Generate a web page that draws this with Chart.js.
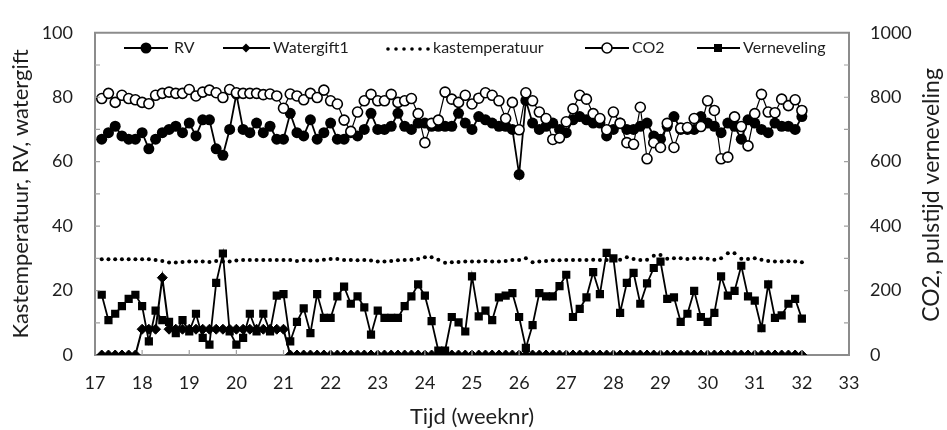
<!DOCTYPE html>
<html>
<head>
<meta charset="utf-8">
<script src="https://cdn.jsdelivr.net/npm/chart.js@4.4.1/dist/chart.umd.min.js"></script>
<style>
  html, body { margin: 0; padding: 0; background: #fff; }
  #wrap { width: 947px; height: 430px; }
</style>
</head>
<body>
<div id="wrap"><canvas id="chart" width="947" height="430"></canvas></div>
<script>
// daily values, first day = week 17 + 1/7
const rv = [
  67, 69, 71, 68, 67, 67, 69, 64, 67, 69,
  70, 71, 69, 72, 68, 73, 73, 64, 62, 70,
  81, 70, 69, 72, 69, 71, 67, 67, 75, 69,
  68, 73, 67, 69, 72, 67, 67, 69, 68, 70,
  75, 70, 70, 71, 75, 71, 70, 72, 72, 71,
  71, 71, 71, 75, 72, 70, 74, 73, 72, 71,
  71, 70, 56, 79, 72, 70, 71, 72, 70, 69,
  73, 74, 73, 72, 72, 68, 70, 72, 70, 70,
  71, 72, 68, 67, 71, 74, 70, 70, 70, 74,
  72, 71, 69, 72, 71, 67, 73, 72, 70, 69,
  72, 71, 71, 70, 74
];
const watergift1 = [
  0, 0, 0, 0, 0, 0, 8, 8, 8, 24,
  8, 8, 8, 8, 8, 8, 8, 8, 8, 8,
  8, 8, 8, 8, 8, 8, 8, 8, 0, 0,
  0, 0, 0, 0, 0, 0, 0, 0, 0, 0,
  0, 0, 0, 0, 0, 0, 0, 0, 0, 0,
  0, 0, 0, 0, 0, 0, 0, 0, 0, 0,
  0, 0, 0, 0, 0, 0, 0, 0, 0, 0,
  0, 0, 0, 0, 0, 0, 0, 0, 0, 0,
  0, 0, 0, 0, 0, 0, 0, 0, 0, 0,
  0, 0, 0, 0, 0, 0, 0, 0, 0, 0,
  0, 0, 0, 0, 0
];
const kastemperatuur = [
  29.7, 29.7, 29.7, 29.7, 29.7, 29.7, 29.7, 29.7, 29.5, 29.2,
  28.7, 28.7, 28.9, 29.0, 29.0, 29.0, 28.9, 29.2, 29.0, 29.0,
  29.3, 29.5, 29.5, 29.5, 29.5, 29.5, 29.5, 29.5, 29.5, 29.2,
  29.5, 29.3, 29.3, 29.6, 29.8, 29.8, 29.5, 29.5, 29.4, 29.5,
  29.3, 29.0, 29.0, 29.2, 29.4, 29.5, 29.6, 29.8, 30.3, 30.3,
  29.6, 28.6, 28.8, 28.9, 29.0, 29.0, 29.0, 29.2, 29.0, 29.0,
  29.2, 29.5, 29.5, 30.0, 28.8, 29.0, 29.2, 29.4, 29.4, 29.5,
  29.5, 29.5, 29.5, 29.6, 29.5, 29.5, 29.5, 29.6, 30.3, 29.8,
  29.5, 29.6, 30.8, 31.0, 29.9, 30.0, 30.0, 29.8, 30.0, 30.0,
  29.9, 29.6, 30.0, 31.6, 31.6, 29.9, 29.8, 30.0, 29.6, 29.2,
  29.0, 29.0, 29.1, 29.0, 28.8
];
const co2 = [
  796, 812, 784, 806, 796, 792, 784, 780, 806, 812,
  816, 812, 812, 824, 804, 816, 822, 814, 799, 824,
  814, 812, 812, 812, 808, 810, 804, 766, 810, 804,
  792, 812, 799, 822, 789, 779, 729, 694, 754, 789,
  809, 789, 789, 809, 784, 789, 796, 749, 659, 719,
  729, 816, 794, 784, 806, 779, 797, 814, 806, 789,
  734, 784, 699, 814, 789, 754, 734, 669, 674, 724,
  764, 806, 794, 749, 734, 699, 754, 719, 659, 654,
  769, 609, 659, 644, 719, 644, 704, 706, 734, 709,
  789, 759, 609, 614, 739, 709, 649, 749, 809, 754,
  752, 794, 774, 792, 759
];
const verneveling = [
  187, 108, 128, 152, 174, 187, 152, 42, 138, 108,
  103, 68, 108, 73, 128, 53, 32, 224, 315, 73,
  32, 53, 128, 73, 128, 73, 184, 189, 42, 103,
  145, 68, 189, 115, 115, 182, 212, 159, 182, 148,
  63, 138, 115, 115, 115, 152, 182, 219, 184, 105,
  14, 14, 118, 101, 73, 244, 120, 138, 108, 179,
  184, 192, 118, 22, 93, 192, 182, 182, 214, 249,
  118, 143, 179, 257, 189, 317, 300, 131, 224, 255,
  159, 222, 270, 290, 174, 179, 103, 128, 199, 118,
  103, 131, 244, 184, 199, 277, 182, 169, 83, 219,
  115, 123, 159, 174, 113
];

const weeks = rv.map((_, i) => 17 + (i + 1) / 7);
const pts = arr => arr.map((v, i) => ({ x: weeks[i], y: v }));

const FONT = 'Lato, "Open Sans", sans-serif';
const TXT = '#1e1e1e';
const FRAME = '#8c8c8c';

// legend inside the plot + frame details
const extras = {
  id: 'extras',
  afterDatasetsDraw(chart) {
    const ctx = chart.ctx;
    const { left, right, top, bottom } = chart.chartArea;
    const sx = chart.scales.x, sy = chart.scales.y;
    ctx.save();
    ctx.strokeStyle = FRAME;
    ctx.lineWidth = 2;
    ctx.beginPath();
    ctx.moveTo(left - 1, top);
    ctx.lineTo(right + 1, top);
    ctx.stroke();
    ctx.lineWidth = 1.2;
    ctx.strokeStyle = '#a0a0a0';
    ctx.beginPath();
    for (let w = 18; w < 33; w++) {
      const px = sx.getPixelForValue(w);
      ctx.moveTo(px, bottom);
      ctx.lineTo(px, bottom - 5);
    }
    for (let v = 10; v < 100; v += 10) {
      const py = sy.getPixelForValue(v);
      ctx.moveTo(left, py);
      ctx.lineTo(left + 5, py);
      ctx.moveTo(right, py);
      ctx.lineTo(right - 5, py);
    }
    ctx.stroke();

    // legend
    const ly = 48;
    ctx.font = '16px ' + FONT;
    ctx.textBaseline = 'middle';
    const seg = (x1, x2) => {
      ctx.strokeStyle = '#000';
      ctx.lineWidth = 2.2;
      ctx.beginPath();
      ctx.moveTo(x1, ly);
      ctx.lineTo(x2, ly);
      ctx.stroke();
    };
    seg(124, 168);
    ctx.fillStyle = '#000';
    ctx.beginPath(); ctx.arc(146, ly, 5.5, 0, Math.PI * 2); ctx.fill();
    seg(223, 270);
    ctx.beginPath();
    ctx.moveTo(246, ly - 4.5); ctx.lineTo(250.5, ly); ctx.lineTo(246, ly + 4.5); ctx.lineTo(241.5, ly);
    ctx.closePath(); ctx.fill();
    for (let i = 0; i < 6; i++) {
      ctx.beginPath(); ctx.arc(388 + i * 8, ly + 1, 1.8, 0, Math.PI * 2); ctx.fill();
    }
    seg(585, 629);
    ctx.fillStyle = '#fff';
    ctx.lineWidth = 1.6;
    ctx.beginPath(); ctx.arc(607, ly, 5, 0, Math.PI * 2); ctx.fill(); ctx.stroke();
    seg(697, 740);
    ctx.fillStyle = '#000';
    ctx.fillRect(714, ly - 4, 8, 8);

    ctx.fillStyle = TXT;
    ctx.fillText('RV', 174, ly);
    ctx.fillText('Watergift1', 273, ly);
    ctx.fillText('kastemperatuur', 433, ly);
    ctx.fillText('CO2', 632, ly);
    ctx.fillText('Verneveling', 743, ly);

    // right axis title, reading bottom to top
    ctx.font = '23px ' + FONT;
    ctx.textAlign = 'center';
    ctx.translate(932, 195);
    ctx.rotate(-Math.PI / 2);
    ctx.fillText('CO2, pulstijd verneveling', 0, 0);
    ctx.restore();
  }
};

function draw() {
  new Chart(document.getElementById('chart'), {
    type: 'line',
    data: {
      datasets: [
        {
          label: 'RV', data: pts(rv), yAxisID: 'y', order: 2,
          borderColor: '#000', borderWidth: 1.8,
          pointStyle: 'circle', pointRadius: 5.5, pointBackgroundColor: '#000', pointBorderColor: '#000', pointBorderWidth: 0
        },
        {
          label: 'Watergift1', data: pts(watergift1), yAxisID: 'y', order: 3,
          borderColor: '#000', borderWidth: 2,
          pointStyle: 'rectRot', pointRadius: 5, pointBackgroundColor: '#000', pointBorderColor: '#000', pointBorderWidth: 1
        },
        {
          label: 'kastemperatuur', data: pts(kastemperatuur), yAxisID: 'y', order: 4,
          showLine: false,
          pointStyle: 'circle', pointRadius: 2, pointBackgroundColor: '#000', pointBorderWidth: 0
        },
        {
          label: 'CO2', data: pts(co2), yAxisID: 'y2', order: 1,
          borderColor: '#000', borderWidth: 1.2,
          pointStyle: 'circle', pointRadius: 5, pointBackgroundColor: '#fff', pointBorderColor: '#000', pointBorderWidth: 1.6
        },
        {
          label: 'Verneveling', data: pts(verneveling), yAxisID: 'y2', order: 5,
          borderColor: '#000', borderWidth: 1.8,
          pointStyle: 'rect', pointRadius: 5.8, pointBackgroundColor: '#000', pointBorderWidth: 0
        }
      ]
    },
    options: {
      responsive: false,
      animation: false,
      devicePixelRatio: 1,
      layout: { padding: { top: 22, left: 0, right: 0, bottom: 0 } },
      plugins: { legend: { display: false }, tooltip: { enabled: false } },
      scales: {
        x: {
          type: 'linear', min: 17, max: 33,
          afterFit: s => { s.height = 75; },
          ticks: { stepSize: 1, color: TXT, font: { family: FONT, size: 18 }, padding: 17, maxRotation: 0 },
          grid: { drawOnChartArea: false, drawTicks: false },
          border: { color: FRAME, width: 2 },
          title: { display: true, text: 'Tijd (weeknr)', color: TXT, font: { family: FONT, size: 22 }, padding: { top: 0, bottom: 0 } }
        },
        y: {
          position: 'left', min: 0, max: 100,
          afterFit: s => { s.width = 95; },
          ticks: { stepSize: 20, color: TXT, font: { family: FONT, size: 18 }, padding: 22 },
          grid: { drawOnChartArea: false, drawTicks: false },
          border: { color: FRAME, width: 2 },
          title: { display: true, text: 'Kastemperatuur, RV, watergift', color: TXT, font: { family: FONT, size: 22 }, padding: { top: 8, bottom: 0 } }
        },
        y2: {
          position: 'right', min: 0, max: 1000,
          afterFit: s => { s.width = 98; },
          ticks: { stepSize: 200, color: TXT, font: { family: FONT, size: 18 }, padding: 21, callback: v => String(v) },
          grid: { drawOnChartArea: false, drawTicks: false },
          border: { color: FRAME, width: 2 }
        }
      }
    },
    plugins: [extras]
  });
}

if (document.fonts && document.fonts.load) {
  Promise.all([document.fonts.load('18px Lato'), document.fonts.load('22px Lato')]).then(draw, draw);
} else {
  draw();
}
</script>
</body>
</html>
